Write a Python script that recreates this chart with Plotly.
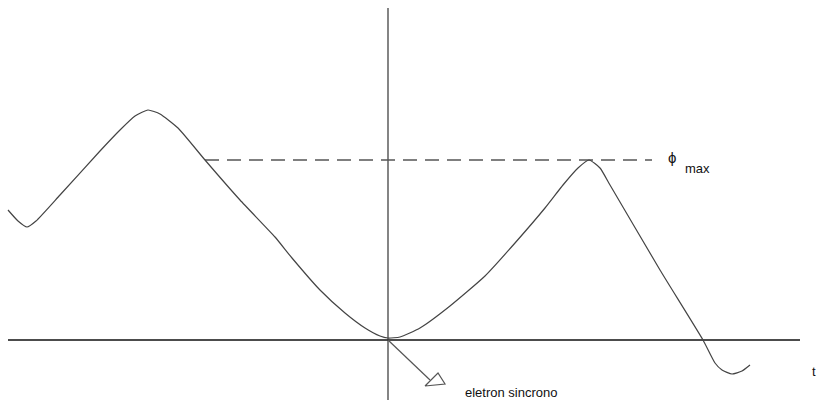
import plotly.graph_objects as go

# Curve (t, phase) in drawing units; origin at the axes crossing
curve_t = [-380, -370, -361, -352, -328, -288, -268, -253, -240, -228, -210, -183,
           -148, -113, -96, -68, -43, -23, -8, 0, 12, 32, 62, 97, 127, 157, 175,
           190, 201, 212, 222, 272, 315, 327, 334, 344, 354, 362]
curve_phi = [130, 119, 113, 119, 145, 189, 210, 224, 230, 226, 212, 180,
             140, 103, 82, 50, 27, 12, 4, 2, 3, 12, 34, 64, 97, 132, 155,
             172, 180, 172, 155, 70, 0, -23, -30, -34, -31, -25]

# Axes extents
t_axis = [-380, 412]
phi_axis = [-60, 332]

# phi_max level and dashed reference line
phi_max = 180
dash_t = [-183, 264]

# Arrow pointing to the synchronous electron
arrow_t = [0, 42]
arrow_phi = [0, -40]
head_t = [37, 50, 57, 37]
head_phi = [-46, -33, -44, -46]

fig = go.Figure()

# axes
fig.add_trace(go.Scatter(x=t_axis, y=[0, 0], mode="lines",
                         line=dict(color="#111111", width=1.5), hoverinfo="skip"))
fig.add_trace(go.Scatter(x=[0, 0], y=phi_axis, mode="lines",
                         line=dict(color="#333333", width=1.2), hoverinfo="skip"))

# dashed phi_max line
fig.add_trace(go.Scatter(x=dash_t, y=[phi_max, phi_max], mode="lines",
                         line=dict(color="#555555", width=1.5, dash="14px,8px"),
                         hoverinfo="skip"))

# curve
fig.add_trace(go.Scatter(x=curve_t, y=curve_phi, mode="lines",
                         line=dict(color="#444444", width=1.2, shape="spline", smoothing=0.5),
                         hoverinfo="skip"))

# arrow
fig.add_trace(go.Scatter(x=arrow_t, y=arrow_phi, mode="lines",
                         line=dict(color="#555555", width=1.2), hoverinfo="skip"))
fig.add_trace(go.Scatter(x=head_t, y=head_phi, mode="lines", fill="toself",
                         fillcolor="white", line=dict(color="#555555", width=1.2),
                         hoverinfo="skip"))

font = dict(family="Liberation Sans, Arial, sans-serif", color="#111111")
fig.add_annotation(x=284, y=183, text="ϕ", showarrow=False,
                   xanchor="center", yanchor="middle", font=dict(size=15, **font))
fig.add_annotation(x=295, y=172, text="max", showarrow=False,
                   xanchor="left", yanchor="middle", font=dict(size=13, **font))
fig.add_annotation(x=75, y=-52, text="eletron sincrono", showarrow=False,
                   xanchor="left", yanchor="middle", font=dict(size=13, **font))
fig.add_annotation(x=426, y=-31, text="t", showarrow=False,
                   xanchor="center", yanchor="middle", font=dict(size=13, **font))

fig.update_layout(
    width=819, height=403,
    margin=dict(l=0, r=0, t=0, b=0),
    paper_bgcolor="white", plot_bgcolor="white",
    showlegend=False,
    xaxis=dict(range=[-388, 431], visible=False, fixedrange=True),
    yaxis=dict(range=[-63, 340], visible=False, fixedrange=True),
)

fig.write_html("out.html",
               config={"displayModeBar": False},
               post_script="document.body.style.margin='0';document.body.style.overflow='hidden';")
